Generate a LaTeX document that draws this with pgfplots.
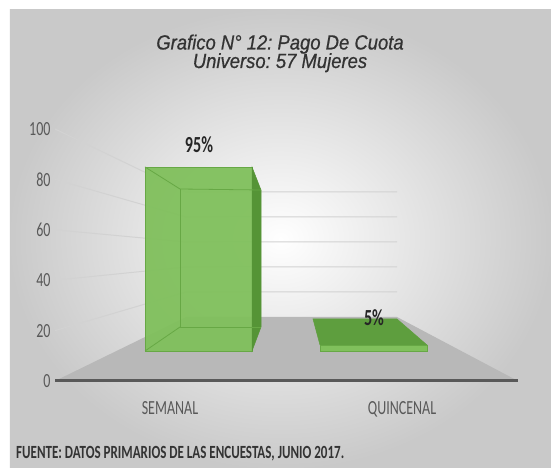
\documentclass[border=0pt]{standalone}
\usepackage{pgfplots}
\pgfplotsset{compat=1.18}
\usepackage{fontspec}
\setmainfont{Carlito}[FakeStretch=0.7]
\newfontfamily\titlefont{Liberation Sans}[FakeStretch=0.9, FakeBold=0.6]
\frenchspacing
\definecolor{labelgray}{HTML}{595959}
\definecolor{titlegray}{HTML}{333333}
\definecolor{floorgray}{HTML}{B8B8B8}
\definecolor{gridgray}{HTML}{D2D2D2}
\definecolor{barfront}{HTML}{80C05C}
\definecolor{baredge}{HTML}{67A845}
\definecolor{barside}{HTML}{559436}
\definecolor{bartop}{HTML}{5E9E3E}
\begin{document}
\begin{tikzpicture}
\begin{axis}[
  set layers,
  scale only axis, width=496pt, height=278pt,
  xmin=55, xmax=551, ymin=-6.746, ymax=103.571,
  clip=false,
  axis lines=left, axis line style={draw=none},
  major tick length=0pt,
  ytick={0,20,...,100},
  xtick={170,402}, xticklabels={SEMANAL,QUINCENAL},
  /pgf/number format/assume math mode=true,
  tick label style={font=\fontsize{20}{22}\selectfont, text=labelgray},
  yticklabel style={xshift=-1pt},
]
% background
\begin{pgfonlayer}{axis background}
\fill[white] (axis cs:0,-34.524) rectangle (axis cs:551,151.190);
\shade[inner color=white, outer color=black!21] (axis cs:10,-34.524) rectangle (axis cs:551,147.421);
\end{pgfonlayer}

% floor
\addplot[draw=none, fill=floorgray] coordinates {(55,0) (518,0) (397,25.397) (186,25.397)} -- cycle;

% back wall gridlines
\addplot[gridgray, line width=1pt] coordinates {(55,20) (186,35.317) (397,35.317)};
\addplot[gridgray, line width=1pt] coordinates {(55,40) (186,45.238) (397,45.238)};
\addplot[gridgray, line width=1pt] coordinates {(55,60) (186,55.159) (397,55.159)};
\addplot[gridgray, line width=1pt] coordinates {(55,80) (186,65.079) (397,65.079)};
\addplot[gridgray, line width=1pt] coordinates {(55,100) (186,75.0) (397,75.0)};

% baseline
\addplot[labelgray, line width=3pt] coordinates {(55,0) (518,0)};

% bar SEMANAL (95%)
\addplot[draw=baredge, fill=barfront, fill opacity=0.95, line width=0.8pt] coordinates {(145,11.905) (252,11.905) (252,84.921) (145,84.921)} -- cycle;
\addplot[draw=barside, fill=barside, line width=0.5pt] coordinates {(252,84.921) (261,75.794) (261,21.429) (252,11.905)} -- cycle;
\addplot[baredge, line width=0.8pt] coordinates {(145,84.921) (180,76.190) (261,75.794)};
\addplot[baredge, line width=0.8pt] coordinates {(180,76.190) (180,21.429) (261,21.429)};
\addplot[baredge, line width=0.8pt] coordinates {(145,11.905) (180,21.429)};

% bar QUINCENAL (5%)
\addplot[draw=bartop, fill=bartop, line width=0.5pt] coordinates {(313,24.603) (397,24.603) (427,14.286) (320,14.286)} -- cycle;
\addplot[draw=baredge, fill=barfront, line width=0.5pt] coordinates {(320,14.286) (427,14.286) (427,11.905) (320,11.905)} -- cycle;

% value labels
\addplot[draw=none, mark=none, nodes near coords, point meta=explicit symbolic,
  nodes near coords style={anchor=center, font=\bfseries\fontsize{23}{24}\selectfont, text=black!85}]
  coordinates {(199,93.65) [95\%] (374,25.0) [5\%]};

% title
\node[anchor=base, text=titlegray, font=\titlefont\itshape\fontsize{20.5}{21}\selectfont] at (axis cs:280,131.548) {Grafico N° 12: Pago De Cuota};
\node[anchor=base, text=titlegray, font=\titlefont\itshape\fontsize{20.5}{21}\selectfont] at (axis cs:280,124.206) {Universo: 57 Mujeres};

% source
\node[anchor=base west, inner sep=0pt, text=titlegray, font=\bfseries\fontsize{18.6}{20}\selectfont] at (axis cs:16,-30.556) {FUENTE: DATOS PRIMARIOS DE LAS ENCUESTAS, JUNIO 2017.};
\end{axis}
\end{tikzpicture}
\end{document}
